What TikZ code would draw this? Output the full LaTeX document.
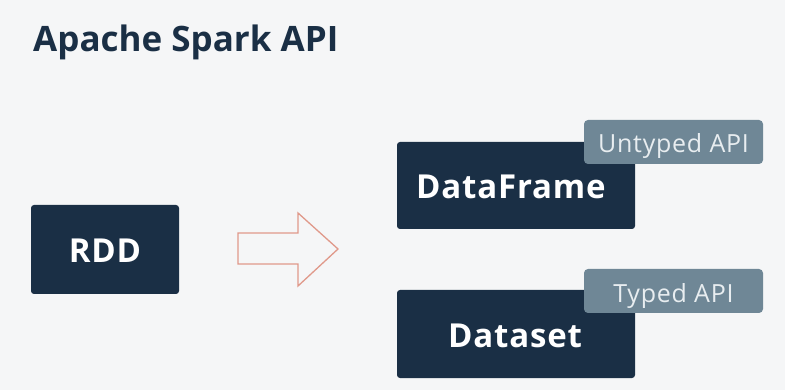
\documentclass[tikz,border=0pt]{standalone}
\usepackage{fontspec}
\setmainfont{Open Sans}
\definecolor{bg}{HTML}{F5F6F7}
\definecolor{navy}{HTML}{1A2F45}
\definecolor{tagc}{HTML}{6F8796}
\definecolor{tagtext}{HTML}{E8EDF0}
\definecolor{arrowc}{HTML}{E0998A}
\tikzset{
  box/.style={fill=navy, rounded corners=3pt, draw=none},
  boxtext/.style={text=white, font=\fontsize{33}{38}\selectfont\bfseries\addfontfeatures{LetterSpace=2.5}, inner sep=0pt},
  tagbox/.style={fill=tagc, rounded corners=4pt, draw=none},
  tagtxt/.style={text=tagtext, font=\fontsize{25}{28}\selectfont\addfontfeatures{LetterSpace=3}, inner sep=0pt},
}
\begin{document}
\begin{tikzpicture}[x=1pt,y=-1pt]
\fill[bg] (0,0) rectangle (785,390);
\useasboundingbox (0,0) rectangle (785,390);
\node[anchor=base west, inner sep=0pt, text=navy, font=\fontsize{35}{40}\selectfont\bfseries] (title) at (33,51.5) {Apache Spark API};
% RDD
\fill[box] (31,205) rectangle (179,294);
\node[boxtext, anchor=base] (rdd) at (105,262.3) {RDD};
% arrow
\draw[arrowc, line width=1.3pt, fill=bg, line join=miter] (238,233) -- (298,233) -- (298,213) -- (338,249) -- (298,286) -- (298,264) -- (238,264) -- cycle;
% DataFrame
\fill[box] (397,142) rectangle (635,229);
\node[boxtext, anchor=base west] (df) at (416,198.3) {DataFrame};
\fill[tagbox] (584,120) rectangle (763,164);
\node[tagtxt, anchor=base] (untyped) at (673.5,153) {Untyped API};
% Dataset
\fill[box] (397,290) rectangle (635,378);
\node[boxtext, anchor=base west] (ds) at (448,347) {Dataset};
\fill[tagbox] (584,269) rectangle (763,313);
\node[tagtxt, anchor=base] (typed) at (673.5,302) {Typed API};
\end{tikzpicture}
\end{document}
